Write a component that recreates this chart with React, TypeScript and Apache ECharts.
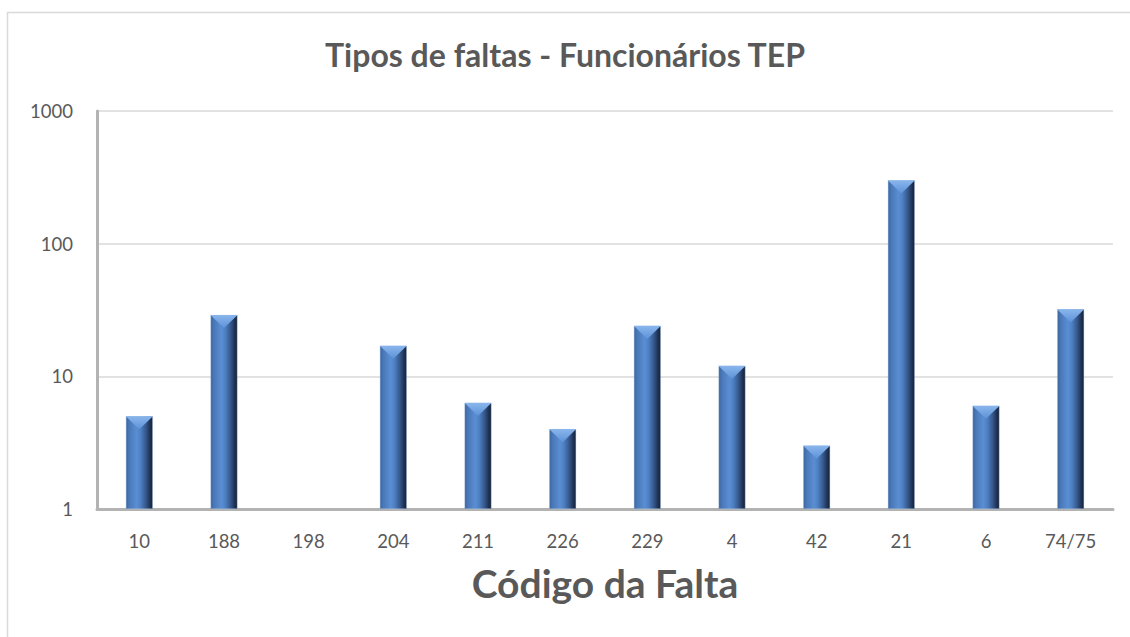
import React, { useEffect, useRef } from "react";
import * as echarts from "echarts";

const categories = ["10", "188", "198", "204", "211", "226", "229", "4", "42", "21", "6", "74/75"];
const values: (number | null)[] = [5, 29, null, 17, 6.3, 4, 24, 12, 3, 300, 6, 32];
const yTicks = [1, 10, 100, 1000];

const FONT = "Lato, 'Open Sans', sans-serif";
const GRAY = "#595959";

export default function App() {
  const ref = useRef<HTMLDivElement>(null);
  useEffect(() => {
    if (!ref.current) return;
    const chart = echarts.init(ref.current, null, { renderer: "svg" });
    const barData = values.map((v) => (v == null ? "-" : v));
    chart.setOption({
      animation: false,
      backgroundColor: "#ffffff",
      title: {
        text: "Tipos de faltas - Funcionários TEP",
        left: "center",
        top: 33,
        textStyle: { fontFamily: FONT, fontSize: 32, fontWeight: "bold", color: GRAY },
      },
      graphic: [
        {
          type: "polyline",
          shape: { points: [[7.5, 700], [7.5, 12.5], [1140, 12.5]] },
          style: { stroke: "#d9d9d9", lineWidth: 1.5, fill: "none" },
          silent: true,
        },
      ],
      grid: { left: 97, right: 17, top: 111, bottom: 128, containLabel: false },
      xAxis: {
        type: "category",
        data: categories,
        name: "Código da Falta",
        nameLocation: "middle",
        nameGap: 54,
        nameTextStyle: { fontFamily: FONT, fontSize: 39, fontWeight: "bold", color: GRAY },
        axisLine: { show: true, lineStyle: { color: "#b3b3b3", width: 3 } },
        axisTick: { show: false },
        axisLabel: { fontFamily: FONT, fontSize: 18.5, color: GRAY, margin: 22 },
        splitLine: { show: false },
      },
      yAxis: {
        type: "log",
        logBase: 10,
        min: yTicks[0],
        max: yTicks[yTicks.length - 1],
        axisLine: { show: true, lineStyle: { color: "#b3b3b3", width: 3 } },
        axisTick: { show: false },
        axisLabel: {
          fontFamily: FONT,
          fontSize: 18.5,
          color: GRAY,
          margin: 24,
          formatter: (v: number) => String(Math.round(v)),
        },
        splitLine: { show: true, lineStyle: { color: "#d9d9d9", width: 1.5 } },
      },
      series: [
        {
          type: "bar",
          data: barData,
          barWidth: 27,
          z: 2,
          itemStyle: {
            borderColor: "rgba(160,190,230,0.6)",
            borderWidth: 0.6,
            color: new echarts.graphic.LinearGradient(0, 0, 1, 0, [
              { offset: 0, color: "#3b659f" },
              { offset: 0.12, color: "#4a78b8" },
              { offset: 0.4, color: "#5a8ed3" },
              { offset: 0.55, color: "#4d7fc2" },
              { offset: 0.75, color: "#35578b" },
              { offset: 0.9, color: "#1f3354" },
              { offset: 1, color: "#15223a" },
            ]),
          },
        },
        {
          type: "pictorialBar",
          data: barData,
          barWidth: 27,
          symbol: "path://M0,0 L10,0 L5,5 Z",
          symbolSize: ["100%", 13],
          symbolPosition: "end",
          z: 3,
          itemStyle: {
            color: new echarts.graphic.LinearGradient(0, 0, 0, 1, [
              { offset: 0, color: "#8ab6ec" },
              { offset: 1, color: "#5d92d8" },
            ]),
          },
        },
      ],
    });
    return () => chart.dispose();
  }, []);
  return (
    <div
      ref={ref}
      style={{ position: "fixed", left: 0, top: 0, width: 1130, height: 637 }}
    />
  );
}
